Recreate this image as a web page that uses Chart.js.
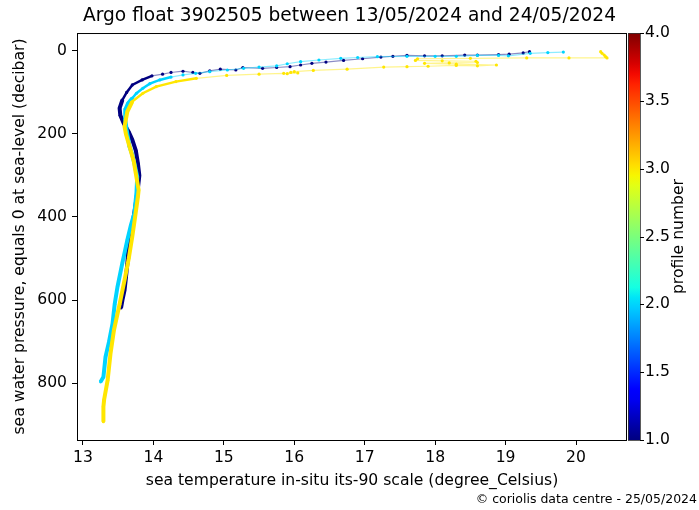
<!DOCTYPE html>
<html>
<head>
<meta charset="utf-8">
<script src="https://cdn.jsdelivr.net/npm/chart.js@4.4.1/dist/chart.umd.min.js"></script>
<style>
  html, body { margin: 0; padding: 0; background: #fff; }
  #wrap { width: 699px; height: 510px; }
</style>
</head>
<body>
<div id="wrap"><canvas id="argoChart" width="699" height="510"></canvas></div>
<script>
// Profile 1 - temperature (degC) / pressure (dbar)
const temp1 = [19.34, 19.25, 19.05, 18.9, 18.6, 18.42, 18.1, 17.85, 17.6, 17.4, 17.23, 16.97, 16.7, 16.45, 16.25, 16.09, 15.94, 15.75, 15.55, 15.27, 15.17, 14.95, 14.8, 14.66, 14.56, 14.42, 14.25, 14.13, 13.98, 13.84, 13.7, 13.62, 13.56, 13.52, 13.53, 13.58, 13.65, 13.7, 13.75, 13.78, 13.8, 13.78, 13.75, 13.71, 13.66, 13.64, 13.63, 13.61, 13.59, 13.56, 13.54];
const pres1 = [2, 5, 8, 9, 10, 10, 12, 12, 11, 13, 15, 19, 23, 27, 30, 34, 38, 40, 42, 40, 46, 44, 48, 54, 52, 49, 52, 56, 60, 70, 82, 100, 118, 138, 155, 175, 195, 214, 240, 271, 300, 330, 367, 410, 455, 485, 512, 545, 576, 600, 619];

// Profile 2
const temp2 = [19.82, 19.6, 19.35, 19.04, 18.9, 18.6, 18.3, 18.0, 17.6, 17.18, 16.9, 16.66, 16.35, 16.09, 15.9, 15.75, 15.5, 15.28, 15.05, 14.8, 14.6, 14.42, 14.25, 14.09, 13.95, 13.85, 13.76, 13.7, 13.64, 13.61, 13.6, 13.62, 13.66, 13.7, 13.73, 13.77, 13.76, 13.73, 13.68, 13.63, 13.56, 13.49, 13.45, 13.42, 13.37, 13.32, 13.29, 13.25];
const pres2 = [3, 4, 6, 12, 11, 11, 13, 13, 13, 14, 16, 18, 22, 26, 31, 36, 39, 42, 46, 50, 54, 58, 63, 70, 79, 90, 102, 114, 126, 138, 165, 190, 230, 250, 271, 303, 340, 391, 420, 455, 510, 568, 610, 656, 700, 737, 785, 797];

// Profile 3
const temp3 = [20.35, 20.37, 20.4, 20.42, 20.44, 19.9, 19.3, 18.5, 17.75, 17.72, 18.1, 18.58, 18.6, 18.2, 17.85, 18.3, 18.87, 18.6, 18.3, 17.9, 17.6, 17.27, 16.75, 16.27, 16.0, 15.95, 16.05, 15.9, 15.85, 15.5, 15.04, 14.61, 14.32, 14.04, 13.85, 13.7, 13.63, 13.59, 13.61, 13.66, 13.72, 13.75, 13.79, 13.78, 13.74, 13.7, 13.65, 13.59, 13.52, 13.44, 13.39, 13.35, 13.3, 13.29, 13.29];
const pres3 = [2, 6, 10, 14, 17, 17, 17, 18, 19, 23, 24, 25, 28, 29, 30, 32, 34, 36, 35, 37, 38, 39, 44, 47, 50, 52, 53, 55, 54, 56, 59, 66, 74, 86, 102, 122, 146, 182, 200, 230, 265, 295, 335, 351, 400, 447, 500, 552, 610, 672, 730, 793, 840, 857, 893];

const profileNumbers = [1, 2, 3];
const xTicks = [13, 14, 15, 16, 17, 18, 19, 20];
const yTicks = [0, 200, 400, 600, 800];
const cbTicks = [1.0, 1.5, 2.0, 2.5, 3.0, 3.5, 4.0];

const FONT = "'DejaVu Sans', sans-serif";
const LABEL_SIZE = 15.6;
const CB_MIN = 1, CB_MAX = 4;

// matplotlib "jet" colormap
function jetRGB(v) {
    const seg = (pts) => {
        for (let i = 1; i < pts.length; i++) {
            if (v <= pts[i][0]) {
                const [x0, y0] = pts[i - 1], [x1, y1] = pts[i];
                return y0 + (y1 - y0) * (v - x0) / (x1 - x0);
            }
        }
        return pts[pts.length - 1][1];
    };
    const r = seg([[0, 0], [0.35, 0], [0.66, 1], [0.89, 1], [1, 0.5]]);
    const g = seg([[0, 0], [0.125, 0], [0.375, 1], [0.64, 1], [0.91, 0], [1, 0]]);
    const b = seg([[0, 0.5], [0.11, 1], [0.34, 1], [0.65, 0], [1, 0]]);
    return [r, g, b].map(c => Math.round(c * 255));
}
const jet = (v, a = 1) => `rgba(${jetRGB(v).join(',')},${a})`;

function profileDataset(n, temps, pres) {
    const v = (n - CB_MIN) / (CB_MAX - CB_MIN);
    // dense, thick trace below the mixed layer, thin pale line near the surface
    const depth = ctx => Math.min(ctx.p0.parsed.y, ctx.p1.parsed.y);
    return {
        data: temps.map((t, i) => ({ x: t, y: pres[i] })),
        showLine: true,
        borderColor: jet(v, 0.45),
        borderWidth: 1.2,
        pointRadius: 1.6,
        pointBorderWidth: 0,
        pointBackgroundColor: jet(v),
        segment: {
            borderWidth: ctx => depth(ctx) >= 110 ? 4 : depth(ctx) >= 60 ? 2.5 : 1.2,
            borderColor: ctx => depth(ctx) >= 60 ? jet(v) : jet(v, 0.45)
        },
        order: 10 - n
    };
}

const fixedTicks = arr => scale => { scale.ticks = arr.map(v => ({ value: v })); };

const decorations = {
    id: 'decorations',
    afterDraw(chart) {
        const { ctx, chartArea: a } = chart;
        const cb = chart.scales.cb;
        ctx.save();
        ctx.strokeStyle = '#000';
        ctx.lineWidth = 1;
        ctx.strokeRect(a.left + 0.5, a.top + 0.5, a.right - a.left - 1, a.bottom - a.top);

        // colour bar
        const x0 = a.right + 1, w = 12;
        const grad = ctx.createLinearGradient(0, cb.bottom, 0, cb.top);
        for (let i = 0; i <= 40; i++) grad.addColorStop(i / 40, jet(i / 40));
        ctx.fillStyle = grad;
        ctx.fillRect(x0, cb.top, w, cb.bottom - cb.top);
        ctx.strokeStyle = '#333';
        ctx.lineWidth = 0.8;
        ctx.strokeRect(x0 + 0.5, cb.top + 0.5, w, cb.bottom - cb.top);
        ctx.strokeStyle = '#000';
        ctx.lineWidth = 1;
        cbTicks.forEach(t => {
            const y = Math.round(cb.getPixelForValue(t)) + 0.5;
            ctx.beginPath();
            ctx.moveTo(x0 + w, y);
            ctx.lineTo(x0 + w + 4, y);
            ctx.stroke();
        });

        // colour bar label
        ctx.fillStyle = '#000';
        ctx.font = `${LABEL_SIZE}px ${FONT}`;
        ctx.textAlign = 'center';
        ctx.textBaseline = 'middle';
        ctx.translate(679, (cb.top + cb.bottom) / 2);
        ctx.rotate(-Math.PI / 2);
        ctx.fillText('profile number', 0, 0);
        ctx.restore();

        // credit line
        ctx.save();
        ctx.fillStyle = '#000';
        ctx.font = `12.5px ${FONT}`;
        ctx.textAlign = 'right';
        ctx.textBaseline = 'middle';
        ctx.fillText('\u00a9 coriolis data centre - 25/05/2024', 697, 500);
        ctx.restore();
    }
};

new Chart(document.getElementById('argoChart'), {
    type: 'scatter',
    data: {
        datasets: [
            profileDataset(profileNumbers[0], temp1, pres1),
            profileDataset(profileNumbers[1], temp2, pres2),
            profileDataset(profileNumbers[2], temp3, pres3)
        ]
    },
    options: {
        responsive: false,
        animation: false,
        layout: { padding: 0 },
        plugins: {
            legend: { display: false },
            tooltip: { enabled: false },
            title: {
                display: true,
                text: 'Argo float 3902505 between 13/05/2024 and 24/05/2024',
                color: '#000',
                font: { family: FONT, size: 18.6, weight: 'normal' },
                padding: { top: 5, bottom: 5.7 }
            }
        },
        scales: {
            x: {
                type: 'linear',
                position: 'bottom',
                min: 12.915,
                max: 20.724,
                afterBuildTicks: fixedTicks(xTicks),
                afterFit: s => { s.height = 70; },
                grid: { drawOnChartArea: false, drawTicks: true, tickLength: 5, color: '#000' },
                border: { display: false },
                ticks: { color: '#000', padding: 3.5, font: { family: FONT, size: LABEL_SIZE } },
                title: {
                    display: true,
                    text: 'sea temperature in-situ its-90 scale (degree_Celsius)',
                    color: '#000',
                    font: { family: FONT, size: LABEL_SIZE },
                    padding: { top: 0, bottom: 19.5 }
                }
            },
            y: {
                type: 'linear',
                position: 'left',
                reverse: true,
                min: -43,
                max: 937,
                afterBuildTicks: fixedTicks(yTicks),
                afterFit: s => { s.width = 77; },
                grid: { drawOnChartArea: false, drawTicks: true, tickLength: 5, color: '#000' },
                border: { display: false },
                ticks: { color: '#000', padding: 5, font: { family: FONT, size: LABEL_SIZE } },
                title: {
                    display: true,
                    text: 'sea water pressure, equals 0 at sea-level (decibar)',
                    color: '#000',
                    font: { family: FONT, size: LABEL_SIZE },
                    padding: { top: 10.5, bottom: 0 }
                }
            },
            cb: {
                type: 'linear',
                axis: 'y',
                position: 'right',
                min: CB_MIN,
                max: CB_MAX,
                afterBuildTicks: fixedTicks(cbTicks),
                afterFit: s => { s.width = 72; },
                grid: { display: false, drawTicks: false },
                border: { display: false },
                ticks: {
                    color: '#000',
                    padding: 18,
                    font: { family: FONT, size: LABEL_SIZE },
                    callback: v => v.toFixed(1)
                }
            }
        }
    },
    plugins: [decorations]
});
</script>
</body>
</html>
